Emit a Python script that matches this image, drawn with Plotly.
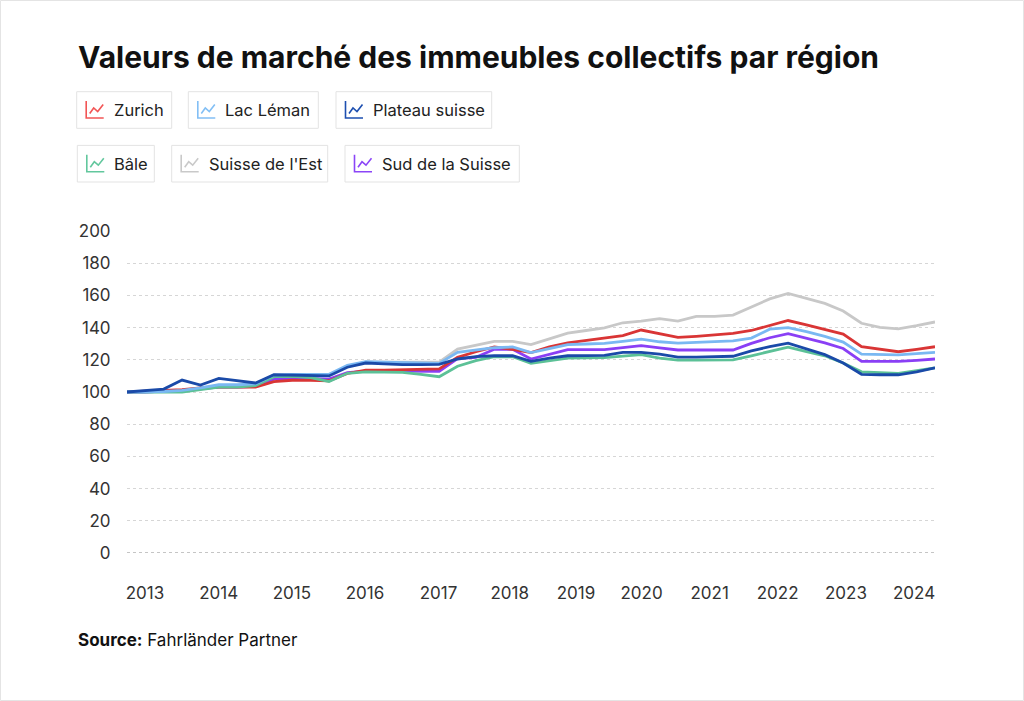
import plotly.graph_objects as go

# ---------------- data ----------------
QUARTERS = [f"{y} T{q}" for y in range(2013, 2025) for q in range(1, 5)][:45]

YEAR_LABELS = ["2013", "2014", "2015", "2016", "2017", "2018",
               "2019", "2020", "2021", "2022", "2023", "2024"]
# where each year label sits on the quarter axis
YEAR_LABEL_POS = [0.98, 4.99, 8.98, 12.96, 16.96, 20.84,
                  24.45, 28.02, 31.73, 35.43, 39.15, 42.86]

Y_TICKS = [0, 20, 40, 60, 80, 100, 120, 140, 160, 180, 200]

zurich = [100, 100.5, 101, 101.5, 102.5, 103, 103, 103, 106.5, 107.3,
          107.2, 107, 111.5, 113.6, 113.6, 113.8, 114, 114.3, 121.5, 125,
          128, 126.5, 124.5, 128, 130.5, 132, 133.5, 135, 138.5, 136.3,
          133.9, 134.6, 135.3, 136.4, 138.2, 141.5, 144.4, 141.7, 139, 136,
          128.2, 126.6, 125, 126.5, 128.1]

lac_leman = [100, 100, 100.3, 101, 102.5, 104.5, 104.5, 105, 110.5, 111,
             111, 111, 116.5, 118.8, 118.5, 118.3, 118, 117.8, 124.6, 126,
             127.5, 128, 124.5, 127, 129.4, 129.8, 130.2, 131.5, 132.8, 131.2,
             130.4, 130.8, 131.2, 131.8, 133.5, 139, 140, 137.5, 134.5, 131,
             123.5, 123.2, 123, 123.8, 124.6]

plateau = [100, 101, 101.8, 107.4, 104.3, 108.4, 107, 105.6, 110.7, 110.5,
           110.3, 110, 115.4, 118, 117.5, 117, 117, 117.2, 120.5, 122,
           122.5, 122.5, 119, 121, 122.5, 122.5, 122.8, 124.6, 124.6, 123.5,
           121.6, 121.7, 121.8, 122.2, 125.5, 128.2, 130.3, 126.7, 123.2, 118,
           111, 110.7, 110.7, 112.5, 115]

bale = [100, 100, 100, 100, 101.5, 103, 103, 104, 109.5, 109.7,
        109, 106.5, 111.6, 112.5, 112.3, 112.2, 111, 109.5, 116, 119.5,
        121.9, 121.9, 117.8, 119.5, 121.1, 121.2, 121.4, 122.3, 123.2, 121.1,
        119.8, 119.8, 119.8, 120, 122.5, 125, 127.8, 125.1, 122.5, 118,
        112.5, 112, 111.6, 113.2, 115]

suisse_est = [100, 100, 100.5, 101, 102.5, 104, 104, 104.5, 110, 110.5,
              110.5, 110.5, 116, 118.6, 118.5, 118.5, 118.5, 118.5, 126.6, 129,
              131.4, 131.4, 129.4, 133, 136.5, 138.2, 139.8, 143, 144, 145.6,
              144, 147, 147, 147.8, 152.7, 157.8, 161.2, 158.3, 155, 150.3,
              142.7, 140.2, 139.2, 141.2, 143.5]

sud = [100, 100, 100.5, 101, 102, 103, 103, 103.5, 108, 108.5,
       108.5, 108, 112, 113, 113, 113, 113, 112.8, 120.7, 121.5,
       126.5, 126.5, 120.5, 123.5, 126.3, 126.3, 126.3, 127.5, 128.8, 127.4,
       126.1, 126.1, 126.1, 126.1, 130.2, 133.7, 136.2, 133.4, 130.5, 127,
       119, 119, 119, 119.7, 120.5]

SERIES_NAMES = ["Zurich", "Lac Léman", "Plateau suisse",
                "Bâle", "Suisse de l'Est", "Sud de la Suisse"]
SERIES_VALUES = [zurich, lac_leman, plateau, bale, suisse_est, sud]

# ---------------- styles ----------------
COLORS = {
    "Zurich": "#d93535",
    "Lac Léman": "#7ab8f2",
    "Plateau suisse": "#1a4aa8",
    "Bâle": "#5cc197",
    "Suisse de l'Est": "#c8c8c8",
    "Sud de la Suisse": "#8a3ff5",
}
LEGEND_ICON_COLORS = {
    "Zurich": "#f25555",
    "Lac Léman": "#82bff5",
    "Plateau suisse": "#1d4fb0",
    "Bâle": "#62c79d",
    "Suisse de l'Est": "#c9c9c9",
    "Sud de la Suisse": "#8b45f7",
}
DRAW_ORDER = ["Suisse de l'Est", "Sud de la Suisse", "Zurich",
              "Bâle", "Lac Léman", "Plateau suisse"]
FONT = "Inter, Roboto, 'Noto Sans', sans-serif"

W, H = 1024, 701
PL, PR, PT, PB = 127, 935, 231, 553


def px(x):
    return (x - PL) / (PR - PL)


def py(y):
    return (PB - y) / (PB - PT)


x_idx = list(range(len(QUARTERS)))
fig = go.Figure()
for name in DRAW_ORDER:
    vals = SERIES_VALUES[SERIES_NAMES.index(name)]
    fig.add_trace(go.Scatter(
        x=x_idx, y=vals, mode="lines", name=name,
        line=dict(color=COLORS[name], width=2.8),
        customdata=QUARTERS,
        hovertemplate="%{customdata}<br>" + name + ": %{y}<extra></extra>",
        showlegend=False,
    ))

shapes = []
annotations = []

# outer card border
shapes.append(dict(type="rect", xref="paper", yref="paper",
                   x0=px(0.5), x1=px(W - 0.5), y0=py(0.5), y1=py(H - 0.5),
                   line=dict(color="#e4e4e4", width=1), fillcolor="rgba(0,0,0,0)",
                   layer="below"))

# zero baseline (dotted, darker)
shapes.append(dict(type="line", xref="paper", yref="y", x0=0, x1=1, y0=0, y1=0,
                   line=dict(color="#8a8a8a", width=1, dash="dot")))

# title
annotations.append(dict(text="<b>Valeurs de marché des immeubles collectifs par région</b>",
                        xref="paper", yref="paper", x=px(76), y=py(57),
                        xanchor="left", yanchor="middle", showarrow=False,
                        font=dict(family=FONT, size=30, color="#111111")))

# custom legend (boxed chips with chart icon)
LEGEND_LAYOUT = [
    ("Zurich", 76.7, 171.7, 110.0),
    ("Lac Léman", 188.3, 318.3, 110.0),
    ("Plateau suisse", 336.0, 491.7, 110.0),
    ("Bâle", 77.3, 154.3, 163.7),
    ("Suisse de l'Est", 171.7, 327.7, 163.7),
    ("Sud de la Suisse", 345.0, 519.3, 163.7),
]
for name, bx0, bx1, cy in LEGEND_LAYOUT:
    shapes.append(dict(type="rect", xref="paper", yref="paper",
                       x0=px(bx0), x1=px(bx1), y0=py(cy - 18.3), y1=py(cy + 18.3),
                       line=dict(color="#e3e3e3", width=1), fillcolor="white"))
    c = LEGEND_ICON_COLORS[name]
    ix0, ix1 = bx0 + 9.5, bx0 + 27
    top, bot = cy - 9, cy + 8
    axis_path = (f"M {px(ix0)} {py(top)} L {px(ix0)} {py(bot)} L {px(ix1)} {py(bot)}")
    zig = [(ix0 + 3.5, bot - 4.5), (ix0 + 7.5, bot - 10), (ix0 + 11.5, bot - 6.5),
           (ix1 - 0.5, bot - 13.5)]
    zig_path = "M " + " L ".join(f"{px(a)} {py(b)}" for a, b in zig)
    shapes.append(dict(type="path", xref="paper", yref="paper", path=axis_path,
                       line=dict(color=c, width=1.6)))
    shapes.append(dict(type="path", xref="paper", yref="paper", path=zig_path,
                       line=dict(color=c, width=1.6)))
    annotations.append(dict(text=name, xref="paper", yref="paper",
                            x=px(bx0 + 35), y=py(cy), xanchor="left", yanchor="middle",
                            showarrow=False,
                            font=dict(family=FONT, size=16.5, color="#222222")))

# source
annotations.append(dict(text="<b>Source:</b> Fahrländer Partner",
                        xref="paper", yref="paper", x=px(76), y=py(640),
                        xanchor="left", yanchor="middle", showarrow=False,
                        font=dict(family=FONT, size=17, color="#111111")))

fig.update_layout(
    width=W, height=H,
    margin=dict(l=PL, r=W - PR, t=PT, b=H - PB, pad=0),
    paper_bgcolor="white", plot_bgcolor="white",
    font=dict(family=FONT, size=17, color="#333333"),
    shapes=shapes, annotations=annotations,
    hovermode="x unified",
    xaxis=dict(range=[0, len(QUARTERS) - 1], tickmode="array",
               tickvals=YEAR_LABEL_POS, ticktext=YEAR_LABELS,
               showgrid=False, zeroline=False, showline=False,
               ticks="outside", ticklen=25, tickcolor="rgba(0,0,0,0)",
               tickfont=dict(family=FONT, size=17, color="#333333"),
               fixedrange=True),
    yaxis=dict(range=[0, 200], tickmode="array", tickvals=Y_TICKS,
               showgrid=True, gridcolor="#d6d6d6", griddash="dot", gridwidth=1,
               zeroline=False, showline=False,
               ticks="outside", ticklen=12, tickcolor="rgba(0,0,0,0)",
               tickfont=dict(family=FONT, size=17, color="#333333"),
               fixedrange=True),
)

fig.write_html("out.html")
